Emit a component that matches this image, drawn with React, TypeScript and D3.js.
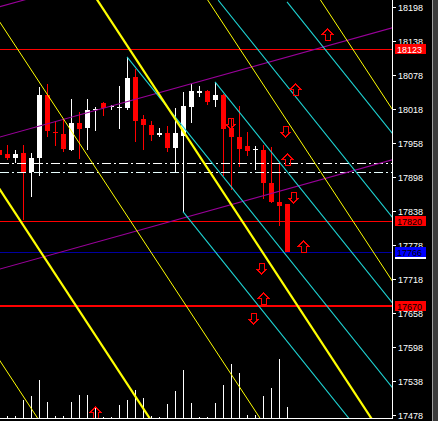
import * as d3 from "d3";

const W = 438;
const H = 421;
const PLOT_R = 392;
const PLOT_B = 418;

// candles, bar -1 is cut by the left edge
const barIdx = [-1, 0, 1, 2, 3, 4, 5, 6, 7, 8, 9, 10, 11, 12, 13, 14, 15, 16, 17, 18, 19, 20, 21, 22, 23, 24, 25, 26, 27, 28, 29, 30, 31, 32, 33, 34, 35];
const opens = [17946, 17939, 17932, 17941, 17906, 17931, 18043, 17978, 17974, 17946, 17994, 17985, 18016, 18029, 18021, 18019, 18020, 18075, 18000, 17990, 17973, 17976, 17950, 17971, 18022, 18046, 18050, 18033, 18043, 17984, 17968, 17953, 17945, 17946, 17887, 17854, 17850];
const highs = [17949, 17954, 17946, 17954, 17940, 18057, 18062, 17996, 18000, 18036, 18013, 18035, 18022, 18030, 18025, 18059, 18110, 18089, 18007, 17997, 17984, 17988, 18019, 18048, 18063, 18059, 18051, 18066, 18044, 18002, 18023, 17978, 17953, 17954, 17951, 17922, 17851];
const lows = [17933, 17928, 17923, 17822, 17862, 17900, 17969, 17952, 17942, 17944, 17930, 17946, 17980, 18006, 18016, 17983, 18017, 17960, 17946, 17962, 17968, 17942, 17905, 17837, 17993, 18040, 18025, 18021, 17899, 17875, 17916, 17935, 17910, 17860, 17853, 17812, 17765];
const closes = [17937, 17932, 17939, 17907, 17932, 18043, 17980, 17975, 17947, 17994, 17983, 18016, 18018, 18019, 18023, 18022, 18073, 17997, 17990, 17972, 17975, 17949, 17975, 18023, 18050, 18050, 18031, 18043, 17983, 17968, 17947, 17944, 17947, 17887, 17854, 17847, 17766];
const volumes = [0, 2, 2, 18, 22, 38, 16, 2, 2, 16, 23, 23, 10, 1, 1, 13, 18, 28, 20, 2, 1, 14, 27, 48, 15, 1, 1, 15, 33, 54, 45, 3, 3, 22, 30, 59, 11];

const priceTicks = [18198, 18138, 18078, 18018, 17958, 17898, 17838, 17778, 17718, 17658, 17598, 17538, 17478];

// horizontal lines with price labels
const hLevels = [18123, 17820, 17766, 17670];
const hColors = ["#ff0000", "#ff0000", "#0000a0", "#ff0000"];
const hBoxColors = ["#ff0000", "#ff0000", "#0000ff", "#ff0000"];
const hWidths = [1, 1, 1, 2];
const hTextColors = ["#ffffff", "#000000", "#000000", "#000000"];

// dash-dot levels
const dashLevels = [17923, 17907];
const dashColors = ["#ffffff", "#e8ffff"];

// yellow parallel lines: bar where each crosses 18210 and 17473
const yellowTop = [-30.5, -16.4, -2.7, 11.3, 25.1, 39.2];
const yellowBottom = [3.8, 17.8, 31.6, 45.5, 59.4, 73.5];
const yellowThick = [false, true, false, true, false, false];

// cyan rays: start [bar, price], same slope
const cyanStartBar = [22, 15, 26, 26.4, 35];
const cyanStartPrice = [17837, 18110, 18066, 18210, 18207];
const cyanSlope = -17.6;

// purple channel: price at bar 0, slope per bar
const purpleAt0 = [18202, 17972, 17739];
const purpleSlope = 3.93;

// arrows
const arrowBar = [40, 36, 34.75, 27.9, 35, 35.7, 37, 31.8, 32, 30.8, 11];
const arrowPrice = [18151, 18053, 17979, 17993, 17930, 17863, 17776, 17738, 17684, 17650, 17484];
const arrowUp = [true, true, false, false, true, false, true, false, true, false, true];

export default function App() {
  const x = d3.scaleLinear().domain([0, 35]).range([7, 287]);
  const y = d3.scaleLinear().domain([17478, 18198]).range([415, 7]);
  const vy = d3.scaleLinear().domain([0, 60]).range([PLOT_B, PLOT_B - 60]);
  const line = d3.line<[number, number]>().x(d => x(d[0])).y(d => y(d[1]));

  const arrowPath = (cx: number, cy: number, up: boolean) => {
    const s = up ? 1 : -1;
    const p: [number, number][] = [
      [0, -5.5], [5, -0.5], [2.5, -0.5], [2.5, 5.5], [-2.5, 5.5], [-2.5, -0.5], [-5, -0.5],
    ];
    return "M" + p.map(([dx, dy]) => `${cx + dx},${cy + s * dy}`).join("L") + "Z";
  };

  return (
    <svg
      width={W}
      height={H}
      style={{ position: "fixed", left: 0, top: 0, display: "block" }}
      fontFamily="'Liberation Sans', Arial, sans-serif"
    >
      <defs>
        <clipPath id="plot">
          <rect x={0} y={0} width={PLOT_R} height={PLOT_B} />
        </clipPath>
      </defs>
      <rect x={0} y={0} width={W} height={H} fill="#000" />

      <g clipPath="url(#plot)">
        <g shapeRendering="crispEdges">
          {/* volumes */}
          {barIdx.map((b, i) =>
            volumes[i] > 0 ? (
              <rect key={"v" + i} x={Math.round(x(b))} y={Math.round(vy(volumes[i]))} width={1}
                height={PLOT_B - Math.round(vy(volumes[i]))} fill="#fff" />
            ) : null
          )}

          {/* candles */}
          {barIdx.map((b, i) => {
            const cx = Math.round(x(b));
            const up = closes[i] >= opens[i];
            const col = up ? "#ffffff" : "#ff0000";
            const top = Math.round(y(Math.max(opens[i], closes[i])));
            const bot = Math.round(y(Math.min(opens[i], closes[i])));
            const hi = Math.round(y(highs[i]));
            const lo = Math.round(y(lows[i]));
            return (
              <g key={"c" + i}>
                <rect x={cx} y={hi} width={1} height={Math.max(1, lo - hi)} fill={col} />
                <rect x={cx - 2} y={top} width={5} height={Math.max(1, bot - top)} fill={col} />
              </g>
            );
          })}

          {/* horizontal levels */}
          {hLevels.map((v, i) => (
            <line key={"h" + i} x1={0} x2={PLOT_R} y1={Math.round(y(v)) + (hWidths[i] === 1 ? 0.5 : 0)}
              y2={Math.round(y(v)) + (hWidths[i] === 1 ? 0.5 : 0)} stroke={hColors[i]} strokeWidth={hWidths[i]} />
          ))}
          {dashLevels.map((v, i) => (
            <line key={"d" + i} x1={0} x2={PLOT_R} y1={Math.round(y(v)) + 0.5} y2={Math.round(y(v)) + 0.5}
              stroke={dashColors[i]} strokeWidth={1} strokeDasharray="9,3,2,3" />
          ))}
        </g>

        {/* purple channel */}
        {purpleAt0.map((p, i) => (
          <path key={"p" + i} d={line([[-5, p - 5 * purpleSlope], [60, p + 60 * purpleSlope]]) || ""}
            stroke="#990099" strokeWidth={1.1} fill="none" />
        ))}

        {/* cyan rays */}
        {cyanStartBar.map((b, i) => (
          <path key={"cy" + i}
            d={line([[b, cyanStartPrice[i]], [80, cyanStartPrice[i] + (80 - b) * cyanSlope]]) || ""}
            stroke="#1ed2d2" strokeWidth={1.1} fill="none" />
        ))}

        {/* yellow parallel lines */}
        {yellowTop.map((b, i) => {
          const k = (17473 - 18210) / (yellowBottom[i] - b);
          const p0 = 18210 + (-45 - b) * k;
          const p1 = 18210 + (90 - b) * k;
          return (
            <path key={"y" + i} d={line([[-45, p0], [90, p1]]) || ""}
              stroke="#ffff00" strokeWidth={yellowThick[i] ? 2.2 : 1} fill="none" />
          );
        })}

        {/* arrows */}
        <g shapeRendering="crispEdges">
          {arrowBar.map((b, i) => (
            <path key={"a" + i} d={arrowPath(Math.round(x(b)) + 0.5, Math.round(y(arrowPrice[i])) + 0.5, arrowUp[i])}
              stroke="#ff0000" strokeWidth={1} fill="none" />
          ))}
        </g>
      </g>

      {/* bottom and price axis */}
      <g shapeRendering="crispEdges">
        <line x1={0} x2={PLOT_R + 1} y1={PLOT_B + 0.5} y2={PLOT_B + 0.5} stroke="#fff" />
        <line x1={PLOT_R + 0.5} x2={PLOT_R + 0.5} y1={0} y2={PLOT_B + 1} stroke="#fff" />
        {priceTicks.map(v => (
          <g key={"t" + v}>
            <line x1={PLOT_R} x2={PLOT_R + 4} y1={Math.round(y(v)) + 0.5} y2={Math.round(y(v)) + 0.5} stroke="#fff" />
            <text x={398} y={Math.round(y(v)) + 3.5} fill="#fff" fontSize={9}>{v}</text>
          </g>
        ))}
        {hLevels.map((v, i) => (
          <g key={"l" + i}>
            <rect x={395} y={Math.round(y(v)) - 5} width={31} height={10} fill={hBoxColors[i]} />
            <text x={397} y={Math.round(y(v)) + 3.5} fill={hTextColors[i]} fontSize={9}>{v}</text>
          </g>
        ))}
        <rect x={395} y={Math.round(y(17766)) + 5} width={31} height={2} fill="#fff" />
        <rect x={432} y={0} width={6} height={H} fill="#3c3c3c" />
        <rect x={432} y={0} width={1} height={H} fill="#a0a0a0" />
      </g>
    </svg>
  );
}
